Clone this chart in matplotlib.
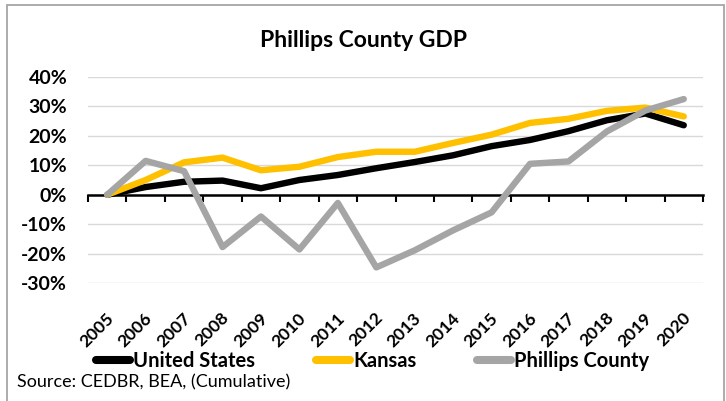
import matplotlib
matplotlib.use('Agg')
import matplotlib.pyplot as plt
from matplotlib.patches import Rectangle
from matplotlib.lines import Line2D

plt.rcParams['font.family'] = ['Lato', 'DejaVu Sans']

years = ['2005', '2006', '2007', '2008', '2009', '2010', '2011', '2012',
         '2013', '2014', '2015', '2016', '2017', '2018', '2019', '2020']

# cumulative GDP change, percent
united_states = [0, 2.6, 4.4, 4.8, 2.2, 5.0, 6.7, 9.0, 11.1, 13.4, 16.5, 18.6, 21.6, 25.3, 27.6, 23.6]
kansas = [0, 5.0, 11.0, 12.6, 8.3, 9.5, 12.8, 14.6, 14.6, 17.6, 20.4, 24.4, 25.8, 28.5, 29.6, 26.6]
phillips = [0, 11.5, 8.0, -17.8, -7.4, -18.6, -2.8, -24.7, -18.9, -12.1, -6.0, 10.5, 11.3, 21.5, 28.6, 32.5]

series = [('United States', united_states, '#000000'),
          ('Kansas', kansas, '#FFC000'),
          ('Phillips County', phillips, '#A5A5A5')]

fig = plt.figure(figsize=(7.26, 4.01), dpi=100)
ax = fig.add_axes([88 / 726, 1 - 283 / 401, 615 / 726, 206 / 401])

x = list(range(len(years)))
for name, vals, col in series:
    ax.plot(x, vals, color=col, lw=4.6, solid_capstyle='round',
            solid_joinstyle='round', label=name, zorder=3)

ax.set_xlim(-0.5, len(years) - 0.5)
ax.set_ylim(-30, 40)
ax.set_yticks(range(-30, 41, 10))
ax.set_yticklabels(['{}%'.format(v) for v in range(-30, 41, 10)],
                   fontsize=14, fontweight='bold')
ax.tick_params(axis='y', length=0, pad=15)
ax.grid(axis='y', color='#d9d9d9', lw=1.0, zorder=0)
ax.set_axisbelow(True)

for s in ['top', 'right', 'left']:
    ax.spines[s].set_visible(False)
ax.spines['bottom'].set_position(('data', 0))
ax.spines['bottom'].set_linewidth(1.8)
ax.spines['bottom'].set_zorder(2)
ax.set_xticks([i - 0.5 for i in range(len(years) + 1)])
ax.set_xticklabels([])
ax.tick_params(axis='x', direction='out', length=5, width=1.5)

trans = ax.get_xaxis_transform()
for i, yr in enumerate(years):
    ax.text(i - 0.04, -0.13, yr, transform=trans, rotation=45,
            rotation_mode='anchor', ha='right', va='top',
            fontsize=12.6, fontweight='bold')

fig.text(0.5, 1 - 47 / 401, 'Phillips County GDP', ha='center', va='baseline',
         fontsize=16.5, fontweight='bold')

handles = [Line2D([0], [0], color=col, lw=5.8, solid_capstyle='round')
           for _, _, col in series]
fig.legend(handles, [s[0] for s in series], loc='center left',
           bbox_to_anchor=(96 / 726, 1 - 361 / 401), ncol=3, frameon=False,
           borderpad=0, borderaxespad=0, handlelength=1.7, handletextpad=0.15,
           columnspacing=3.0, prop={'size': 14.5, 'weight': 'bold'})

fig.text(17 / 726, 1 - 382 / 401, 'Source: CEDBR, BEA, (Cumulative)',
         ha='left', va='center', fontsize=13)

fig.patches.append(Rectangle((7 / 726, -0.1), 717 / 726, 1.1 - 5 / 401,
                             transform=fig.transFigure, fill=False,
                             edgecolor='#a6a6a6', lw=1.3))

fig.savefig('out.png', dpi=100)
